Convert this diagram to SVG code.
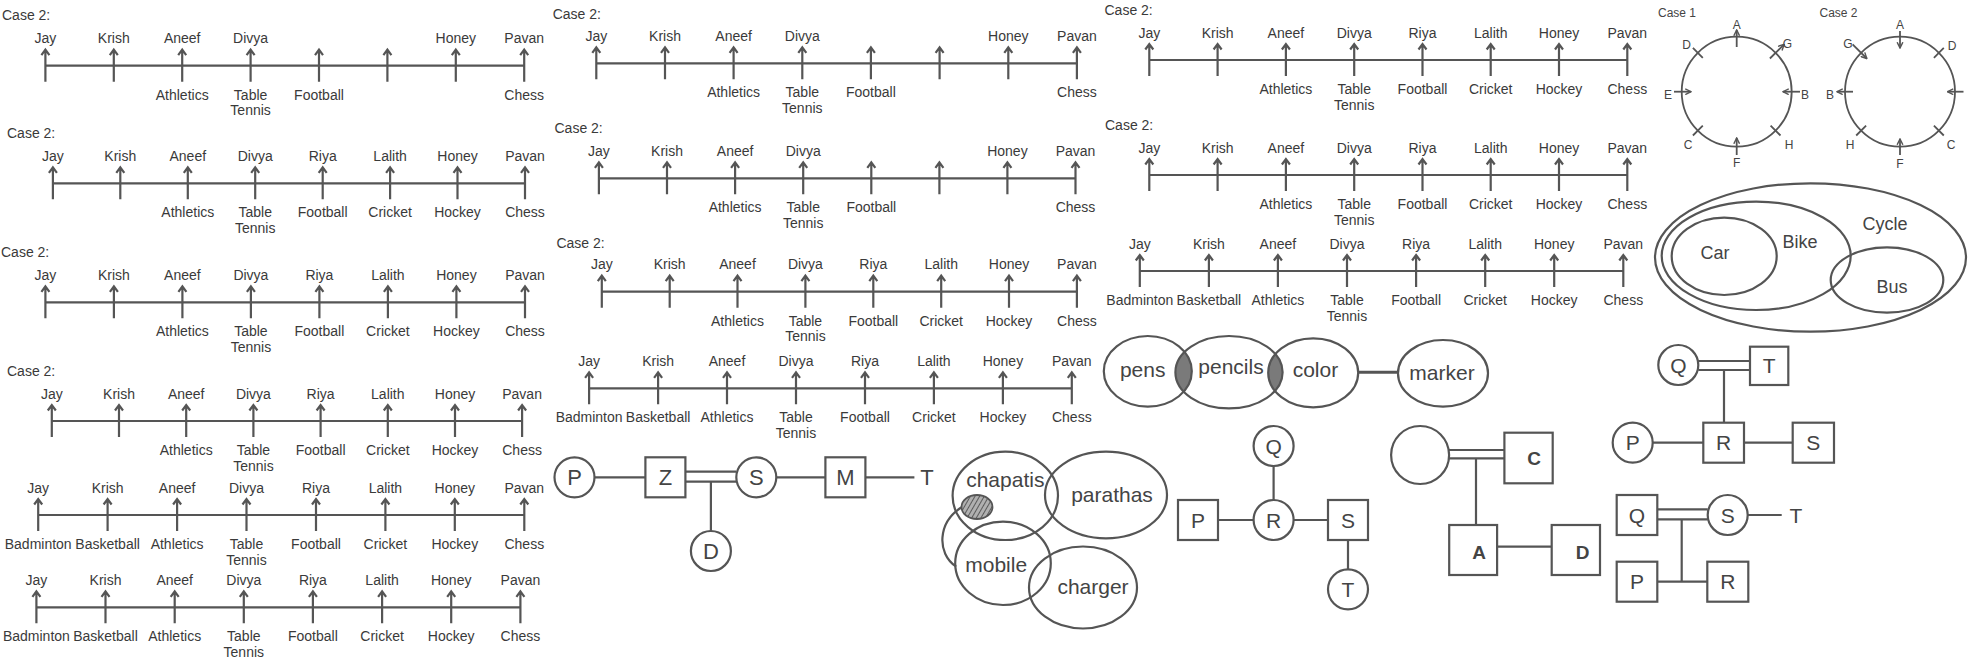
<svg xmlns="http://www.w3.org/2000/svg" width="1975" height="662" viewBox="0 0 1975 662">
<style>
text{font-family:"Liberation Sans",Arial,Helvetica,sans-serif;fill:#3a3a3a}
.tx{font-size:14px;text-anchor:middle}
.cs{font-size:14px}
.ln{stroke:#555;stroke-width:2.2;fill:none}
.sh{stroke:#555;stroke-width:2.2;fill:none}
.sw{stroke:#555;stroke-width:2.2;fill:#fff}
.lt{font-size:22px;text-anchor:middle;fill:#444}
.lm{font-size:21px;text-anchor:middle;fill:#444}
.lb{font-size:19px;text-anchor:middle;font-weight:bold;fill:#444}
.vn{font-size:21px;text-anchor:middle;fill:#444}
.vc{font-size:18px;text-anchor:middle;fill:#444}
.sm{font-size:12px;text-anchor:middle;fill:#444}
.ci{stroke:#555;stroke-width:1.8;fill:none}
.ca{stroke:#555;stroke-width:1.8;fill:none;marker-end:url(#ah)}
</style>
<defs>
<g id="ar"><path d="M0,-16V16M-4,-10.5L0,-16L4,-10.5" stroke="#555" stroke-width="2.2" fill="none"/></g>
<marker id="ah" viewBox="0 0 10 10" refX="9" refY="5" markerWidth="4" markerHeight="4" orient="auto"><path d="M1,1L9,5L1,9" fill="none" stroke="#555" stroke-width="2"/></marker>
<pattern id="hatch" width="4" height="4" patternUnits="userSpaceOnUse" patternTransform="rotate(30)"><rect width="4" height="4" fill="#b0b0b0"/><line x1="0" y1="0" x2="0" y2="4" stroke="#444" stroke-width="1.6"/></pattern>
<clipPath id="cpPens"><ellipse cx="1147.8" cy="371.3" rx="44" ry="35.3"/></clipPath>
<clipPath id="cpColor"><ellipse cx="1313.2" cy="372.8" rx="45" ry="34.5"/></clipPath>
</defs>

<!-- Left column timelines -->
<g id="tl1">
<text class="cs" x="2" y="20">Case 2:</text>
<path class="ln" d="M45.4,65.7H524.2"/>
<use href="#ar" x="45.4" y="65.7"/><use href="#ar" x="113.8" y="65.7"/><use href="#ar" x="182.2" y="65.7"/><use href="#ar" x="250.6" y="65.7"/><use href="#ar" x="319" y="65.7"/><use href="#ar" x="387.4" y="65.7"/><use href="#ar" x="455.8" y="65.7"/><use href="#ar" x="524.2" y="65.7"/>
<text class="tx" x="45.4" y="43.2">Jay</text><text class="tx" x="113.8" y="43.2">Krish</text><text class="tx" x="182.2" y="43.2">Aneef</text><text class="tx" x="250.6" y="43.2">Divya</text><text class="tx" x="455.8" y="43.2">Honey</text><text class="tx" x="524.2" y="43.2">Pavan</text>
<text class="tx" x="182.2" y="99.7">Athletics</text><text class="tx" x="250.6" y="99.7">Table</text><text class="tx" x="250.6" y="115.2">Tennis</text><text class="tx" x="319" y="99.7">Football</text><text class="tx" x="524.2" y="99.7">Chess</text>
</g>

<g id="tl2">
<text class="cs" x="7" y="138.3">Case 2:</text>
<path class="ln" d="M52.9,183.3H525"/>
<use href="#ar" x="52.9" y="183.3"/><use href="#ar" x="120.3" y="183.3"/><use href="#ar" x="187.8" y="183.3"/><use href="#ar" x="255.2" y="183.3"/><use href="#ar" x="322.7" y="183.3"/><use href="#ar" x="390.1" y="183.3"/><use href="#ar" x="457.5" y="183.3"/><use href="#ar" x="525" y="183.3"/>
<text class="tx" x="52.9" y="160.8">Jay</text><text class="tx" x="120.3" y="160.8">Krish</text><text class="tx" x="187.8" y="160.8">Aneef</text><text class="tx" x="255.2" y="160.8">Divya</text><text class="tx" x="322.7" y="160.8">Riya</text><text class="tx" x="390.1" y="160.8">Lalith</text><text class="tx" x="457.5" y="160.8">Honey</text><text class="tx" x="525" y="160.8">Pavan</text>
<text class="tx" x="187.8" y="217.3">Athletics</text><text class="tx" x="255.2" y="217.3">Table</text><text class="tx" x="255.2" y="232.8">Tennis</text><text class="tx" x="322.7" y="217.3">Football</text><text class="tx" x="390.1" y="217.3">Cricket</text><text class="tx" x="457.5" y="217.3">Hockey</text><text class="tx" x="525" y="217.3">Chess</text>
</g>

<g id="tl3">
<text class="cs" x="1" y="257">Case 2:</text>
<path class="ln" d="M45.4,302.3H525"/>
<use href="#ar" x="45.4" y="302.3"/><use href="#ar" x="113.9" y="302.3"/><use href="#ar" x="182.4" y="302.3"/><use href="#ar" x="250.9" y="302.3"/><use href="#ar" x="319.4" y="302.3"/><use href="#ar" x="387.9" y="302.3"/><use href="#ar" x="456.4" y="302.3"/><use href="#ar" x="525" y="302.3"/>
<text class="tx" x="45.4" y="279.8">Jay</text><text class="tx" x="113.9" y="279.8">Krish</text><text class="tx" x="182.4" y="279.8">Aneef</text><text class="tx" x="250.9" y="279.8">Divya</text><text class="tx" x="319.4" y="279.8">Riya</text><text class="tx" x="387.9" y="279.8">Lalith</text><text class="tx" x="456.4" y="279.8">Honey</text><text class="tx" x="525" y="279.8">Pavan</text>
<text class="tx" x="182.4" y="336.3">Athletics</text><text class="tx" x="250.9" y="336.3">Table</text><text class="tx" x="250.9" y="351.8">Tennis</text><text class="tx" x="319.4" y="336.3">Football</text><text class="tx" x="387.9" y="336.3">Cricket</text><text class="tx" x="456.4" y="336.3">Hockey</text><text class="tx" x="525" y="336.3">Chess</text>
</g>

<g id="tl4">
<text class="cs" x="7" y="376">Case 2:</text>
<path class="ln" d="M51.8,421H522.1"/>
<use href="#ar" x="51.8" y="421"/><use href="#ar" x="119" y="421"/><use href="#ar" x="186.2" y="421"/><use href="#ar" x="253.4" y="421"/><use href="#ar" x="320.6" y="421"/><use href="#ar" x="387.8" y="421"/><use href="#ar" x="455" y="421"/><use href="#ar" x="522.1" y="421"/>
<text class="tx" x="51.8" y="398.5">Jay</text><text class="tx" x="119" y="398.5">Krish</text><text class="tx" x="186.2" y="398.5">Aneef</text><text class="tx" x="253.4" y="398.5">Divya</text><text class="tx" x="320.6" y="398.5">Riya</text><text class="tx" x="387.8" y="398.5">Lalith</text><text class="tx" x="455" y="398.5">Honey</text><text class="tx" x="522.1" y="398.5">Pavan</text>
<text class="tx" x="186.2" y="455">Athletics</text><text class="tx" x="253.4" y="455">Table</text><text class="tx" x="253.4" y="470.5">Tennis</text><text class="tx" x="320.6" y="455">Football</text><text class="tx" x="387.8" y="455">Cricket</text><text class="tx" x="455" y="455">Hockey</text><text class="tx" x="522.1" y="455">Chess</text>
</g>

<g id="tl5">
<path class="ln" d="M38.2,515H524.3"/>
<use href="#ar" x="38.2" y="515"/><use href="#ar" x="107.6" y="515"/><use href="#ar" x="177.1" y="515"/><use href="#ar" x="246.5" y="515"/><use href="#ar" x="316" y="515"/><use href="#ar" x="385.4" y="515"/><use href="#ar" x="454.8" y="515"/><use href="#ar" x="524.3" y="515"/>
<text class="tx" x="38.2" y="492.5">Jay</text><text class="tx" x="107.6" y="492.5">Krish</text><text class="tx" x="177.1" y="492.5">Aneef</text><text class="tx" x="246.5" y="492.5">Divya</text><text class="tx" x="316" y="492.5">Riya</text><text class="tx" x="385.4" y="492.5">Lalith</text><text class="tx" x="454.8" y="492.5">Honey</text><text class="tx" x="524.3" y="492.5">Pavan</text>
<text class="tx" x="38.2" y="549">Badminton</text><text class="tx" x="107.6" y="549">Basketball</text><text class="tx" x="177.1" y="549">Athletics</text><text class="tx" x="246.5" y="549">Table</text><text class="tx" x="246.5" y="564.5">Tennis</text><text class="tx" x="316" y="549">Football</text><text class="tx" x="385.4" y="549">Cricket</text><text class="tx" x="454.8" y="549">Hockey</text><text class="tx" x="524.3" y="549">Chess</text>
</g>

<g id="tl6">
<path class="ln" d="M36.4,607.3H520.4"/>
<use href="#ar" x="36.4" y="607.3"/><use href="#ar" x="105.5" y="607.3"/><use href="#ar" x="174.7" y="607.3"/><use href="#ar" x="243.8" y="607.3"/><use href="#ar" x="312.9" y="607.3"/><use href="#ar" x="382.1" y="607.3"/><use href="#ar" x="451.2" y="607.3"/><use href="#ar" x="520.4" y="607.3"/>
<text class="tx" x="36.4" y="584.8">Jay</text><text class="tx" x="105.5" y="584.8">Krish</text><text class="tx" x="174.7" y="584.8">Aneef</text><text class="tx" x="243.8" y="584.8">Divya</text><text class="tx" x="312.9" y="584.8">Riya</text><text class="tx" x="382.1" y="584.8">Lalith</text><text class="tx" x="451.2" y="584.8">Honey</text><text class="tx" x="520.4" y="584.8">Pavan</text>
<text class="tx" x="36.4" y="641.3">Badminton</text><text class="tx" x="105.5" y="641.3">Basketball</text><text class="tx" x="174.7" y="641.3">Athletics</text><text class="tx" x="243.8" y="641.3">Table</text><text class="tx" x="243.8" y="656.8">Tennis</text><text class="tx" x="312.9" y="641.3">Football</text><text class="tx" x="382.1" y="641.3">Cricket</text><text class="tx" x="451.2" y="641.3">Hockey</text><text class="tx" x="520.4" y="641.3">Chess</text>
</g>

<!-- Middle column timelines -->
<g id="tm1">
<text class="cs" x="552.7" y="19">Case 2:</text>
<path class="ln" d="M596.3,63.3H1076.9"/>
<use href="#ar" x="596.3" y="63.3"/><use href="#ar" x="665" y="63.3"/><use href="#ar" x="733.6" y="63.3"/><use href="#ar" x="802.3" y="63.3"/><use href="#ar" x="870.9" y="63.3"/><use href="#ar" x="939.6" y="63.3"/><use href="#ar" x="1008.3" y="63.3"/><use href="#ar" x="1076.9" y="63.3"/>
<text class="tx" x="596.3" y="40.8">Jay</text><text class="tx" x="665" y="40.8">Krish</text><text class="tx" x="733.6" y="40.8">Aneef</text><text class="tx" x="802.3" y="40.8">Divya</text><text class="tx" x="1008.3" y="40.8">Honey</text><text class="tx" x="1076.9" y="40.8">Pavan</text>
<text class="tx" x="733.6" y="97.3">Athletics</text><text class="tx" x="802.3" y="97.3">Table</text><text class="tx" x="802.3" y="112.8">Tennis</text><text class="tx" x="870.9" y="97.3">Football</text><text class="tx" x="1076.9" y="97.3">Chess</text>
</g>

<g id="tm2">
<text class="cs" x="554.5" y="133.3">Case 2:</text>
<path class="ln" d="M598.9,178.3H1075.5"/>
<use href="#ar" x="598.9" y="178.3"/><use href="#ar" x="667" y="178.3"/><use href="#ar" x="735.1" y="178.3"/><use href="#ar" x="803.2" y="178.3"/><use href="#ar" x="871.3" y="178.3"/><use href="#ar" x="939.4" y="178.3"/><use href="#ar" x="1007.4" y="178.3"/><use href="#ar" x="1075.5" y="178.3"/>
<text class="tx" x="598.9" y="155.8">Jay</text><text class="tx" x="667" y="155.8">Krish</text><text class="tx" x="735.1" y="155.8">Aneef</text><text class="tx" x="803.2" y="155.8">Divya</text><text class="tx" x="1007.4" y="155.8">Honey</text><text class="tx" x="1075.5" y="155.8">Pavan</text>
<text class="tx" x="735.1" y="212.3">Athletics</text><text class="tx" x="803.2" y="212.3">Table</text><text class="tx" x="803.2" y="227.8">Tennis</text><text class="tx" x="871.3" y="212.3">Football</text><text class="tx" x="1075.5" y="212.3">Chess</text>
</g>

<g id="tm3">
<text class="cs" x="556.4" y="248">Case 2:</text>
<path class="ln" d="M601.8,291.7H1076.9"/>
<use href="#ar" x="601.8" y="291.7"/><use href="#ar" x="669.7" y="291.7"/><use href="#ar" x="737.5" y="291.7"/><use href="#ar" x="805.4" y="291.7"/><use href="#ar" x="873.3" y="291.7"/><use href="#ar" x="941.2" y="291.7"/><use href="#ar" x="1009" y="291.7"/><use href="#ar" x="1076.9" y="291.7"/>
<text class="tx" x="601.8" y="269.2">Jay</text><text class="tx" x="669.7" y="269.2">Krish</text><text class="tx" x="737.5" y="269.2">Aneef</text><text class="tx" x="805.4" y="269.2">Divya</text><text class="tx" x="873.3" y="269.2">Riya</text><text class="tx" x="941.2" y="269.2">Lalith</text><text class="tx" x="1009" y="269.2">Honey</text><text class="tx" x="1076.9" y="269.2">Pavan</text>
<text class="tx" x="737.5" y="325.7">Athletics</text><text class="tx" x="805.4" y="325.7">Table</text><text class="tx" x="805.4" y="341.2">Tennis</text><text class="tx" x="873.3" y="325.7">Football</text><text class="tx" x="941.2" y="325.7">Cricket</text><text class="tx" x="1009" y="325.7">Hockey</text><text class="tx" x="1076.9" y="325.7">Chess</text>
</g>

<g id="tm4">
<path class="ln" d="M589.1,388.3H1071.8"/>
<use href="#ar" x="589.1" y="388.3"/><use href="#ar" x="658.1" y="388.3"/><use href="#ar" x="727" y="388.3"/><use href="#ar" x="796" y="388.3"/><use href="#ar" x="865" y="388.3"/><use href="#ar" x="933.9" y="388.3"/><use href="#ar" x="1002.9" y="388.3"/><use href="#ar" x="1071.8" y="388.3"/>
<text class="tx" x="589.1" y="365.8">Jay</text><text class="tx" x="658.1" y="365.8">Krish</text><text class="tx" x="727" y="365.8">Aneef</text><text class="tx" x="796" y="365.8">Divya</text><text class="tx" x="865" y="365.8">Riya</text><text class="tx" x="933.9" y="365.8">Lalith</text><text class="tx" x="1002.9" y="365.8">Honey</text><text class="tx" x="1071.8" y="365.8">Pavan</text>
<text class="tx" x="589.1" y="422.3">Badminton</text><text class="tx" x="658.1" y="422.3">Basketball</text><text class="tx" x="727" y="422.3">Athletics</text><text class="tx" x="796" y="422.3">Table</text><text class="tx" x="796" y="437.8">Tennis</text><text class="tx" x="865" y="422.3">Football</text><text class="tx" x="933.9" y="422.3">Cricket</text><text class="tx" x="1002.9" y="422.3">Hockey</text><text class="tx" x="1071.8" y="422.3">Chess</text>
</g>

<!-- Right-middle column timelines -->
<g id="tr1">
<text class="cs" x="1104.5" y="15">Case 2:</text>
<path class="ln" d="M1149.3,60H1627.3"/>
<use href="#ar" x="1149.3" y="60"/><use href="#ar" x="1217.6" y="60"/><use href="#ar" x="1285.9" y="60"/><use href="#ar" x="1354.2" y="60"/><use href="#ar" x="1422.5" y="60"/><use href="#ar" x="1490.7" y="60"/><use href="#ar" x="1559" y="60"/><use href="#ar" x="1627.3" y="60"/>
<text class="tx" x="1149.3" y="37.5">Jay</text><text class="tx" x="1217.6" y="37.5">Krish</text><text class="tx" x="1285.9" y="37.5">Aneef</text><text class="tx" x="1354.2" y="37.5">Divya</text><text class="tx" x="1422.5" y="37.5">Riya</text><text class="tx" x="1490.7" y="37.5">Lalith</text><text class="tx" x="1559" y="37.5">Honey</text><text class="tx" x="1627.3" y="37.5">Pavan</text>
<text class="tx" x="1285.9" y="94">Athletics</text><text class="tx" x="1354.2" y="94">Table</text><text class="tx" x="1354.2" y="109.5">Tennis</text><text class="tx" x="1422.5" y="94">Football</text><text class="tx" x="1490.7" y="94">Cricket</text><text class="tx" x="1559" y="94">Hockey</text><text class="tx" x="1627.3" y="94">Chess</text>
</g>

<g id="tr2">
<text class="cs" x="1105" y="130">Case 2:</text>
<path class="ln" d="M1149.3,175H1627.3"/>
<use href="#ar" x="1149.3" y="175"/><use href="#ar" x="1217.6" y="175"/><use href="#ar" x="1285.9" y="175"/><use href="#ar" x="1354.2" y="175"/><use href="#ar" x="1422.5" y="175"/><use href="#ar" x="1490.7" y="175"/><use href="#ar" x="1559" y="175"/><use href="#ar" x="1627.3" y="175"/>
<text class="tx" x="1149.3" y="152.5">Jay</text><text class="tx" x="1217.6" y="152.5">Krish</text><text class="tx" x="1285.9" y="152.5">Aneef</text><text class="tx" x="1354.2" y="152.5">Divya</text><text class="tx" x="1422.5" y="152.5">Riya</text><text class="tx" x="1490.7" y="152.5">Lalith</text><text class="tx" x="1559" y="152.5">Honey</text><text class="tx" x="1627.3" y="152.5">Pavan</text>
<text class="tx" x="1285.9" y="209">Athletics</text><text class="tx" x="1354.2" y="209">Table</text><text class="tx" x="1354.2" y="224.5">Tennis</text><text class="tx" x="1422.5" y="209">Football</text><text class="tx" x="1490.7" y="209">Cricket</text><text class="tx" x="1559" y="209">Hockey</text><text class="tx" x="1627.3" y="209">Chess</text>
</g>

<g id="tr3">
<path class="ln" d="M1139.8,271H1623.3"/>
<use href="#ar" x="1139.8" y="271"/><use href="#ar" x="1208.9" y="271"/><use href="#ar" x="1277.9" y="271"/><use href="#ar" x="1347" y="271"/><use href="#ar" x="1416.1" y="271"/><use href="#ar" x="1485.2" y="271"/><use href="#ar" x="1554.2" y="271"/><use href="#ar" x="1623.3" y="271"/>
<text class="tx" x="1139.8" y="248.5">Jay</text><text class="tx" x="1208.9" y="248.5">Krish</text><text class="tx" x="1277.9" y="248.5">Aneef</text><text class="tx" x="1347" y="248.5">Divya</text><text class="tx" x="1416.1" y="248.5">Riya</text><text class="tx" x="1485.2" y="248.5">Lalith</text><text class="tx" x="1554.2" y="248.5">Honey</text><text class="tx" x="1623.3" y="248.5">Pavan</text>
<text class="tx" x="1139.8" y="305">Badminton</text><text class="tx" x="1208.9" y="305">Basketball</text><text class="tx" x="1277.9" y="305">Athletics</text><text class="tx" x="1347" y="305">Table</text><text class="tx" x="1347" y="320.5">Tennis</text><text class="tx" x="1416.1" y="305">Football</text><text class="tx" x="1485.2" y="305">Cricket</text><text class="tx" x="1554.2" y="305">Hockey</text><text class="tx" x="1623.3" y="305">Chess</text>
</g>

<!-- Circle arrangements -->
<g id="case1">
<text class="sm" x="1677" y="17">Case 1</text>
<circle class="ci" cx="1736.7" cy="91.7" r="55"/>
<path class="ca" d="M1736.7,47V30"/>
<path class="ca" d="M1769.9,58.5L1784.1,44.3"/>
<path class="ca" d="M1674,91.7H1691"/>
<path class="ca" d="M1800,91.7H1783"/>
<path class="ca" d="M1736.7,155V138"/>
<path class="ci" d="M1702.8,57.8L1692.9,47.9M1702.8,125.6L1692.9,135.5M1770.6,125.6L1780.5,135.5"/>
<text class="sm" x="1736.7" y="28.5">A</text><text class="sm" x="1686.5" y="49">D</text><text class="sm" x="1787.5" y="47.5">G</text><text class="sm" x="1668" y="99">E</text><text class="sm" x="1805" y="99">B</text><text class="sm" x="1688" y="148.5">C</text><text class="sm" x="1789" y="149">H</text><text class="sm" x="1736.7" y="167">F</text>
</g>
<g id="case2c">
<text class="sm" x="1838.5" y="17">Case 2</text>
<circle class="ci" cx="1900" cy="91.7" r="55"/>
<path class="ca" d="M1900,31V48"/>
<path class="ca" d="M1852.6,44.3L1866.8,58.5"/>
<path class="ca" d="M1853,91.7H1837"/>
<path class="ca" d="M1963.5,91.7H1947.5"/>
<path class="ca" d="M1900,155V139"/>
<path class="ci" d="M1933.9,57.8L1943.8,47.9M1866.1,125.6L1856.2,135.5M1933.9,125.6L1943.8,135.5"/>
<text class="sm" x="1900" y="28.5">A</text><text class="sm" x="1848" y="48">G</text><text class="sm" x="1952" y="50">D</text><text class="sm" x="1830" y="99">B</text><text class="sm" x="1850" y="149">H</text><text class="sm" x="1951" y="149">C</text><text class="sm" x="1900" y="168">F</text>
</g>

<!-- Vehicles Venn -->
<g id="vehicles">
<ellipse class="sh" cx="1810.5" cy="257.5" rx="155.5" ry="74.2"/>
<ellipse class="sh" cx="1756.2" cy="255.8" rx="94.5" ry="54.2"/>
<ellipse class="sh" cx="1724.2" cy="256.3" rx="52.5" ry="38.7"/>
<ellipse class="sh" cx="1887" cy="280" rx="56.3" ry="32.7"/>
<text class="vc" x="1715" y="259">Car</text>
<text class="vc" x="1800" y="248">Bike</text>
<text class="vc" x="1885" y="230">Cycle</text>
<text class="vc" x="1892" y="293">Bus</text>
</g>

<!-- pens / pencils / color / marker -->
<g id="stationery">
<ellipse cx="1229" cy="372.2" rx="53.6" ry="36.2" fill="#7a7a7a" clip-path="url(#cpPens)"/>
<ellipse cx="1229" cy="372.2" rx="53.6" ry="36.2" fill="#7a7a7a" clip-path="url(#cpColor)"/>
<ellipse class="sh" cx="1147.8" cy="371.3" rx="44" ry="35.3"/>
<ellipse class="sh" cx="1229" cy="372.2" rx="53.6" ry="36.2"/>
<ellipse class="sh" cx="1313.2" cy="372.8" rx="45" ry="34.5"/>
<ellipse class="sh" cx="1443" cy="373.3" rx="45" ry="33.3"/>
<path d="M1358.3,372.3H1398.3" stroke="#555" stroke-width="3"/>
<text class="vn" x="1142.7" y="377">pens</text>
<text class="vn" x="1231" y="374">pencils</text>
<text class="vn" x="1315.4" y="377">color</text>
<text class="vn" x="1442" y="380">marker</text>
</g>

<!-- food / mobile Venn -->
<g id="foodvenn">
<ellipse class="sh" cx="1005.3" cy="495.8" rx="52.7" ry="44.2"/>
<ellipse class="sh" cx="1106" cy="495" rx="61" ry="43.3"/>
<ellipse cx="977" cy="507" rx="15.5" ry="12" fill="url(#hatch)" stroke="#555" stroke-width="1.8"/>
<path class="sh" d="M961.6,507.3C938,522 936,553 956.2,566.7"/>
<ellipse class="sh" cx="1003" cy="563.3" rx="47.8" ry="41.7"/>
<ellipse class="sh" cx="1083" cy="587.5" rx="54" ry="41"/>
<text class="vn" x="1005.3" y="487">chapatis</text>
<text class="vn" x="1112" y="502">parathas</text>
<text class="vn" x="996.2" y="572">mobile</text>
<text class="vn" x="1093" y="594">charger</text>
</g>

<!-- Pedigree 1: P Z S M T D -->
<g id="ped1">
<g class="sh">
<path d="M594.5,477.3H645.4M685.4,471.7H736.3M685.4,481.7H736.3M710.9,481.7V531M776.3,477.3H825.4M865.4,477.3H914.4"/>
</g>
<g id="p1P"><circle class="sw" cx="574.5" cy="477.3" r="20"/><text class="lt" x="574.5" y="485.2">P</text></g>
<g id="p1Z"><rect class="sw" x="645.4" y="457.3" width="40" height="40"/><text class="lt" x="665.4" y="485.2">Z</text></g>
<g id="p1S"><circle class="sw" cx="756.3" cy="477.3" r="20"/><text class="lt" x="756.3" y="485.2">S</text></g>
<g id="p1D"><circle class="sw" cx="710.9" cy="551" r="20"/><text class="lt" x="710.9" y="558.9">D</text></g>
<g id="p1M"><rect class="sw" x="825.4" y="457.3" width="40" height="40"/><text class="lt" x="845.4" y="485.2">M</text></g>
<text class="lt" x="927" y="485.2">T</text>
</g>

<!-- Pedigree 2: Q R P S T -->
<g id="ped2">
<path class="sh" d="M1273.6,466V500M1218,520H1253.6M1293.6,520H1328M1348,540V569.3"/>
<g id="p2Q"><circle class="sw" cx="1273.6" cy="446" r="20"/><text class="lm" x="1273.6" y="453.5">Q</text></g>
<g id="p2R"><circle class="sw" cx="1273.6" cy="520" r="20"/><text class="lm" x="1273.6" y="527.5">R</text></g>
<g id="p2P"><rect class="sw" x="1178" y="500" width="40" height="40"/><text class="lm" x="1198" y="527.5">P</text></g>
<g id="p2S"><rect class="sw" x="1328" y="500" width="40" height="40"/><text class="lm" x="1348" y="527.5">S</text></g>
<g id="p2T"><circle class="sw" cx="1348" cy="589.3" r="20"/><text class="lm" x="1348" y="596.8">T</text></g>
</g>

<!-- Pedigree 3: circle C A D -->
<g id="ped3">
<path class="sh" d="M1449,450H1504.4M1449,458.3H1504.4M1476,458.3V525M1497.1,546.7H1551.7"/>
<g id="p3O"><circle class="sw" cx="1420.1" cy="455" r="29"/></g>
<g id="p3C"><rect class="sw" x="1504.4" y="432.7" width="48.3" height="50.6"/><text class="lb" x="1534" y="465">C</text></g>
<g id="p3A"><rect class="sw" x="1449.2" y="525" width="47.9" height="50"/><text class="lb" x="1479" y="558.5">A</text></g>
<g id="p3D"><rect class="sw" x="1551.7" y="525" width="48.3" height="50"/><text class="lb" x="1582.6" y="558.5">D</text></g>
</g>

<!-- Pedigree 4: Q T P R S -->
<g id="ped4">
<path class="sh" d="M1698.3,361H1750M1698.3,370H1750M1724,370V422.7M1652.7,442.7H1703.3M1744,442.7H1792.7"/>
<g id="p4Q"><circle class="sw" cx="1678.3" cy="365" r="20"/><text class="lm" x="1678.3" y="372.5">Q</text></g>
<g id="p4T"><rect class="sw" x="1750" y="346.7" width="38.3" height="38.3"/><text class="lm" x="1769.2" y="373.3">T</text></g>
<g id="p4P"><circle class="sw" cx="1632.7" cy="442.7" r="20"/><text class="lm" x="1632.7" y="450.2">P</text></g>
<g id="p4R"><rect class="sw" x="1703.3" y="422.7" width="40.7" height="40"/><text class="lm" x="1723.6" y="450.2">R</text></g>
<g id="p4S"><rect class="sw" x="1792.7" y="422.7" width="41.3" height="40"/><text class="lm" x="1813.3" y="450.2">S</text></g>
</g>

<!-- Pedigree 5: Q S T P R -->
<g id="ped5">
<path class="sh" d="M1657.3,509.3H1707.7M1657.3,519.3H1707.7M1747.7,515H1781.7M1681.7,519.3V581.7M1657.3,581.7H1707.3"/>
<g id="p5Q"><rect class="sw" x="1616.7" y="495" width="40.6" height="40"/><text class="lm" x="1637" y="522.5">Q</text></g>
<g id="p5S"><circle class="sw" cx="1727.7" cy="515" r="20"/><text class="lm" x="1727.7" y="522.5">S</text></g>
<text class="lm" x="1796" y="522.5">T</text>
<g id="p5P"><rect class="sw" x="1616.7" y="561.7" width="40.6" height="40"/><text class="lm" x="1637" y="589.2">P</text></g>
<g id="p5R"><rect class="sw" x="1707.3" y="561.7" width="41" height="40"/><text class="lm" x="1727.8" y="589.2">R</text></g>
</g>
</svg>
